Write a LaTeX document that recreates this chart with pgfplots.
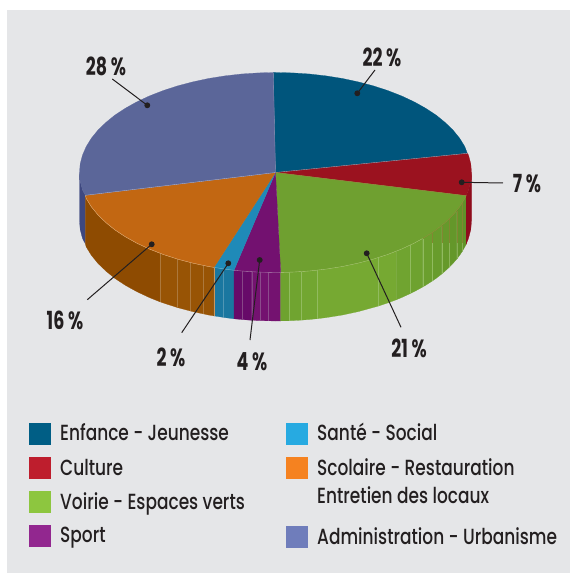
\documentclass[border=0pt]{standalone}
\usepackage{fontspec}
\setmainfont[FakeStretch=0.775]{Poppins Medium}
\newfontfamily\lab[FakeStretch=0.7]{Poppins Bold}
\usepackage{pgfplots}
\pgfplotsset{compat=1.18}
\definecolor{bg}{HTML}{E5E6E8}
\definecolor{tx}{HTML}{231F20}
\definecolor{enf}{HTML}{00557C}
\definecolor{cul}{HTML}{9B121F}
\definecolor{voi}{HTML}{6FA030}
\definecolor{spo}{HTML}{731170}
\definecolor{san}{HTML}{1F8AB8}
\definecolor{sco}{HTML}{C26712}
\definecolor{adm}{HTML}{5B6699}
\pgfplotsset{
  poly/.style={fill={#1},draw={#1},line width=0.2pt,mark=none},
  stripe/.style={draw={#1},line width=0.35pt,mark=none,forget plot},
  leader/.style={draw=tx,line width=1pt,mark=*,mark size=2.4pt,mark indices={1},mark options={fill=tx,draw=tx}},
}
\newcommand{\lgd}[3]{\node[anchor=base west,font=\fontsize{22}{24}\selectfont,text=tx,inner sep=0pt] at (axis cs:#1,#2) {#3};}
\newcommand{\pc}[3]{\node[font=\lab\fontsize{25}{27}\selectfont,text=tx,inner sep=0pt] at (axis cs:#1,#2) {#3};}
\begin{document}
\begin{tikzpicture}
\begin{axis}[scale only axis,width=570bp,height=573bp,xmin=0,xmax=570,ymin=0,ymax=573,y dir=reverse,hide axis,clip=true]
% background
\addplot[poly=white] coordinates {(0,0)(570,0)(570,573)(0,573)} --cycle;
\addplot[poly=bg] coordinates {(7.5,10)(570,10)(570,572)(7.5,572)} --cycle;
% side walls
\addplot[poly={rgb,255:red,62;green,72;blue,128}] coordinates {(85.3,195.3)(82.5,189.9)(80.2,181.2)(79.5,172.5)(79.5,221)(80.2,229.7)(82.5,238.4)(85.3,243.8)} --cycle;
\addplot[poly={rgb,255:red,142;green,75;blue,1}] coordinates {(160,253.3)(149.5,249.1)(136.9,243.2)(125.4,236.8)(114.9,229.9)(105.8,222.5)(97.9,214.8)(91.3,206.7)(86.2,198.4)(85.3,195.3)(85.3,243.8)(86.2,246.9)(91.3,255.2)(97.9,263.3)(105.8,271)(114.9,278.4)(125.4,285.3)(136.9,291.7)(149.5,297.6)(160,301.8)} --cycle;
\addplot[poly={rgb,255:red,152;green,84;blue,5}] coordinates {(214,267.4)(208.5,266.5)(192.7,263.1)(177.5,259.1)(163.1,254.4)(160,253.3)(160,301.8)(163.1,302.9)(177.5,307.6)(192.7,311.6)(208.5,315)(214,315.9)} --cycle;
\addplot[poly={rgb,255:red,26;green,119;blue,160}] coordinates {(234,270.3)(224.8,269.1)(214,267.4)(214,315.9)(224.8,317.6)(234,318.8)} --cycle;
\addplot[poly={rgb,255:red,103;green,10;blue,105}] coordinates {(251.7,271.8)(241.5,271)(234,270.3)(234,318.8)(241.5,319.5)(251.7,320.3)} --cycle;
\addplot[poly={rgb,255:red,116;green,18;blue,112}] coordinates {(280.7,272.4)(275.5,272.5)(258.4,272.1)(251.7,271.8)(251.7,320.3)(258.4,320.6)(275.5,321)(280.7,320.9)} --cycle;
% Voirie wall, panel by panel
\addplot[poly={rgb,255:red,110;green,162;blue,47}] coordinates {(289.3,272.25)(280.7,272.4)(280.7,320.9)(289.3,320.75)} --cycle;
\addplot[poly={rgb,255:red,112;green,164;blue,48}] coordinates {(301.5,271.6)(292.6,272.1)(289.3,272.25)(289.3,320.75)(292.6,320.6)(301.5,320.1)} --cycle;
\addplot[poly={rgb,255:red,114;green,166;blue,49}] coordinates {(317.3,270.2)(309.5,271)(301.5,271.6)(301.5,320.1)(309.5,319.5)(317.3,318.7)} --cycle;
\addplot[poly={rgb,255:red,118;green,169;blue,50}] coordinates {(396.7,251.1)(387.9,254.4)(378.3,257.6)(358.3,263.1)(342.5,266.5)(326.2,269.1)(317.3,270.2)(317.3,318.7)(326.2,317.6)(342.5,315)(358.3,311.6)(378.3,306.1)(387.9,302.9)(396.7,299.6)} --cycle;
\addplot[poly={rgb,255:red,112;green,164;blue,48}] coordinates {(410,245.2)(401.5,249.1)(396.7,251.1)(396.7,299.6)(401.5,297.6)(410,293.7)} --cycle;
\addplot[poly={rgb,255:red,110;green,162;blue,47}] coordinates {(422.7,238.5)(414.1,243.2)(410,245.2)(410,293.7)(414.1,291.7)(422.7,287)} --cycle;
\addplot[poly={rgb,255:red,107;green,159;blue,46}] coordinates {(432.3,232.5)(425.6,236.8)(422.7,238.5)(422.7,287)(425.6,285.3)(432.3,281)} --cycle;
\addplot[poly={rgb,255:red,104;green,156;blue,44}] coordinates {(441.7,225.5)(436.1,229.9)(432.3,232.5)(432.3,281)(436.1,278.4)(441.7,274)} --cycle;
\addplot[poly={rgb,255:red,102;green,153;blue,43}] coordinates {(449.3,218.7)(445.2,222.5)(441.7,225.5)(441.7,274)(445.2,271)(449.3,267.2)} --cycle;
\addplot[poly={rgb,255:red,100;green,151;blue,42}] coordinates {(456.7,210.6)(453.1,214.8)(449.3,218.7)(449.3,267.2)(453.1,263.3)(456.7,259.1)} --cycle;
\addplot[poly={rgb,255:red,98;green,149;blue,41}] coordinates {(462.3,202.8)(459.7,206.7)(456.7,210.6)(456.7,259.1)(459.7,255.2)(462.3,251.3)} --cycle;
\addplot[poly={rgb,255:red,96;green,147;blue,41}] coordinates {(466.2,195.7)(464.8,198.4)(462.3,202.8)(462.3,251.3)(464.8,246.9)(466.2,244.2)} --cycle;
\addplot[poly={rgb,255:red,143;green,13;blue,29}] coordinates {(471.5,172.5)(470.8,181.2)(468.5,189.9)(466.2,195.7)(466.2,244.2)(468.5,238.4)(470.8,229.7)(471.5,221)} --cycle;
% stripes on the walls
\addplot[stripe={rgb,255:red,172;green,120;blue,60}] coordinates {(203.3,265.5)(203.3,314)};
\addplot[stripe={rgb,255:red,172;green,120;blue,60}] coordinates {(190.3,262.6)(190.3,311.1)};
\addplot[stripe={rgb,255:red,172;green,120;blue,60}] coordinates {(176.7,258.9)(176.7,307.4)};
\addplot[stripe={rgb,255:red,172;green,120;blue,60}] coordinates {(160,253.3)(160,301.8)};
\addplot[stripe={rgb,255:red,205;green,150;blue,90}] coordinates {(213.7,267.4)(213.7,315.9)};
\addplot[stripe={rgb,255:red,80;green,150;blue,180}] coordinates {(223.3,268.9)(223.3,317.4)};
\addplot[stripe={rgb,255:red,135;green,70;blue,135}] coordinates {(242.3,271.1)(242.3,319.6)};
\addplot[stripe={rgb,255:red,135;green,70;blue,135}] coordinates {(251.7,271.8)(251.7,320.3)};
\addplot[stripe={rgb,255:red,140;green,75;blue,140}] coordinates {(260,272.2)(260,320.7)};
\addplot[stripe={rgb,255:red,140;green,75;blue,140}] coordinates {(268.3,272.4)(268.3,320.9)};
\addplot[stripe={rgb,255:red,145;green,187;blue,95}] coordinates {(289.3,272.25)(289.3,320.75)};
\addplot[stripe={rgb,255:red,145;green,187;blue,95}] coordinates {(301.5,271.6)(301.5,320.1)};
\addplot[stripe={rgb,255:red,145;green,187;blue,95}] coordinates {(317.3,270.2)(317.3,318.7)};
\addplot[stripe={rgb,255:red,145;green,187;blue,95}] coordinates {(378.3,257.6)(378.3,306.1)};
\addplot[stripe={rgb,255:red,145;green,187;blue,95}] coordinates {(410,245.2)(410,293.7)};
\addplot[stripe={rgb,255:red,145;green,187;blue,95}] coordinates {(422.7,238.5)(422.7,287)};
\addplot[stripe={rgb,255:red,145;green,187;blue,95}] coordinates {(432.3,243)(432.3,281)};
\addplot[stripe={rgb,255:red,145;green,187;blue,95}] coordinates {(441.7,243)(441.7,274)};
\addplot[stripe={rgb,255:red,140;green,180;blue,90}] coordinates {(449.3,243)(449.3,267.2)};
\addplot[stripe={rgb,255:red,135;green,175;blue,85}] coordinates {(456.7,243)(456.7,259.1)};
\addplot[stripe={rgb,255:red,135;green,175;blue,85}] coordinates {(462.3,243)(462.3,251.3)};
\addplot[stripe={rgb,255:red,130;green,135;blue,50}] coordinates {(432.3,232.5)(432.3,243)};
\addplot[stripe={rgb,255:red,130;green,135;blue,50}] coordinates {(441.7,225.5)(441.7,243)};
\addplot[stripe={rgb,255:red,130;green,135;blue,50}] coordinates {(449.3,218.7)(449.3,243)};
\addplot[stripe={rgb,255:red,130;green,135;blue,50}] coordinates {(456.7,210.6)(456.7,243)};
\addplot[stripe={rgb,255:red,130;green,135;blue,50}] coordinates {(462.3,202.8)(462.3,243)};
% top surface wedges
\addplot[poly=enf] coordinates {(275.5,172.5)(273.3,72.5)(275.5,72.5)(292.6,72.9)(309.5,74)(326.2,75.9)(342.5,78.5)(358.3,81.9)(373.5,85.9)(387.9,90.6)(401.5,95.9)(414.1,101.8)(425.6,108.2)(436.1,115.1)(445.2,122.5)(453.1,130.2)(459.7,138.3)(464.8,146.6)(467.3,153.3)} --cycle;
\addplot[poly=cul] coordinates {(275.5,172.5)(467.3,153.3)(468.5,155.1)(470.8,163.8)(471.5,172.5)(470.8,181.2)(468.5,189.9)(466.2,195.7)} --cycle;
\addplot[poly=voi] coordinates {(275.5,172.5)(466.2,195.7)(464.8,198.4)(459.7,206.7)(453.1,214.8)(445.2,222.5)(436.1,229.9)(425.6,236.8)(414.1,243.2)(401.5,249.1)(387.9,254.4)(373.5,259.1)(358.3,263.1)(342.5,266.5)(326.2,269.1)(309.5,271)(292.6,272.1)(280.7,272.4)} --cycle;
\addplot[poly=spo] coordinates {(275.5,172.5)(280.7,272.4)(275.5,272.5)(258.4,272.1)(241.5,271)(234,270.3)} --cycle;
\addplot[poly=san] coordinates {(275.5,172.5)(234,270.3)(224.8,269.1)(214,267.4)} --cycle;
\addplot[poly=sco] coordinates {(275.5,172.5)(214,267.4)(208.5,266.5)(192.7,263.1)(177.5,259.1)(163.1,254.4)(149.5,249.1)(136.9,243.2)(125.4,236.8)(114.9,229.9)(105.8,222.5)(97.9,214.8)(91.3,206.7)(86.2,198.4)(85.3,195.3)} --cycle;
\addplot[poly=adm] coordinates {(275.5,172.5)(85.3,195.3)(82.5,189.9)(80.2,181.2)(79.5,172.5)(80.2,163.8)(82.5,155.1)(86.2,146.6)(91.3,138.3)(97.9,130.2)(105.8,122.5)(114.9,115.1)(125.4,108.2)(136.9,101.8)(149.5,95.9)(163.1,90.6)(177.5,85.9)(192.7,81.9)(208.5,78.5)(224.8,75.9)(241.5,74)(258.4,72.9)(273.3,72.5)} --cycle;
% pale edges
\addplot[stripe={rgb,255:red,172;green,200;blue,120}] coordinates {(280.7,272.4)(292.6,272.1)(309.5,271)(326.2,269.1)(342.5,266.5)(358.3,263.1)(373.5,259.1)(387.9,254.4)(401.5,249.1)(414.1,243.2)(422.7,238.5)};
\addplot[stripe={rgb,255:red,145;green,135;blue,55}] coordinates {(422.7,238.5)(425.6,236.8)(436.1,229.9)(445.2,222.5)(453.1,214.8)(459.7,206.7)(464.8,198.4)(466.2,195.7)};
\addplot[stripe={rgb,255:red,170;green,125;blue,170}] coordinates {(234,270.3)(241.5,271)(258.4,272.1)(275.5,272.5)(280.7,272.4)};
\addplot[stripe={rgb,255:red,120;green,180;blue,205}] coordinates {(214,267.4)(224.8,269.1)(234,270.3)};
\addplot[stripe={rgb,255:red,225;green,180;blue,130}] coordinates {(85.3,195.3)(86.2,198.4)(91.3,206.7)(97.9,214.8)(105.8,222.5)(114.9,229.9)(125.4,236.8)(136.9,243.2)(149.5,249.1)(163.1,254.4)(177.5,259.1)(192.7,263.1)(208.5,266.5)(214,267.4)};
\addplot[stripe={rgb,255:red,170;green,175;blue,205}] coordinates {(275.5,172.5)(85.3,195.3)};
\addplot[stripe={rgb,255:red,130;green,140;blue,175}] coordinates {(275.5,172.5)(273.3,72.5)};
\addplot[stripe={rgb,255:red,130;green,170;blue,190}] coordinates {(275.5,172.5)(467.3,153.3)};
\addplot[stripe={rgb,255:red,150;green,130;blue,60}] coordinates {(275.5,172.5)(466.2,195.7)};
% leaders
\addplot[leader] coordinates {(357.3,93.3)(375,70)};
\addplot[leader] coordinates {(147.3,105.3)(112.3,79)};
\addplot[leader] coordinates {(461.7,182.3)(503,183)};
\addplot[leader] coordinates {(366.7,253.3)(401,327.3)};
\addplot[leader] coordinates {(259.7,260)(250,340)};
\addplot[leader] coordinates {(228.3,263.3)(181.7,332.7)};
\addplot[leader] coordinates {(151.7,244.3)(87.3,299.7)};
% percentage labels
\pc{382}{57}{22 \%}
\pc{106}{66}{28 \%}
\pc{527}{184}{7 \%}
\pc{409}{348}{21 \%}
\pc{252}{362}{4 \%}
\pc{171}{357}{2 \%}
\pc{65}{320}{16 \%}
% legend keys
\addplot[fill={rgb,255:red,0;green,94;blue,133},draw=none] coordinates {(29,422.7)(51,422.7)(51,444.7)(29,444.7)} --cycle;
\addplot[fill={rgb,255:red,190;green,30;blue,45},draw=none] coordinates {(29,456.7)(51,456.7)(51,478.7)(29,478.7)} --cycle;
\addplot[fill={rgb,255:red,141;green,198;blue,63},draw=none] coordinates {(29,490.7)(51,490.7)(51,512.7)(29,512.7)} --cycle;
\addplot[fill={rgb,255:red,146;green,39;blue,143},draw=none] coordinates {(29,524.7)(51,524.7)(51,546.7)(29,546.7)} --cycle;
\addplot[fill={rgb,255:red,39;green,170;blue,225},draw=none] coordinates {(286,422.7)(308,422.7)(308,444.7)(286,444.7)} --cycle;
\addplot[fill={rgb,255:red,245;green,130;blue,32},draw=none] coordinates {(286,456.7)(308,456.7)(308,478.7)(286,478.7)} --cycle;
\addplot[fill={rgb,255:red,111;green,125;blue,187},draw=none] coordinates {(286,525.7)(308,525.7)(308,547.7)(286,547.7)} --cycle;
% legend text
\lgd{60}{440.7}{Enfance - Jeunesse}
\lgd{60}{475}{Culture}
\lgd{60}{509}{Voirie - Espaces verts}
\lgd{60}{542.7}{Sport}
\lgd{317}{440.7}{Santé - Social}
\lgd{317}{475}{Scolaire - Restauration}
\lgd{317}{503.3}{Entretien des locaux}
\lgd{317}{544}{Administration - Urbanisme}
\end{axis}
\end{tikzpicture}
\end{document}
